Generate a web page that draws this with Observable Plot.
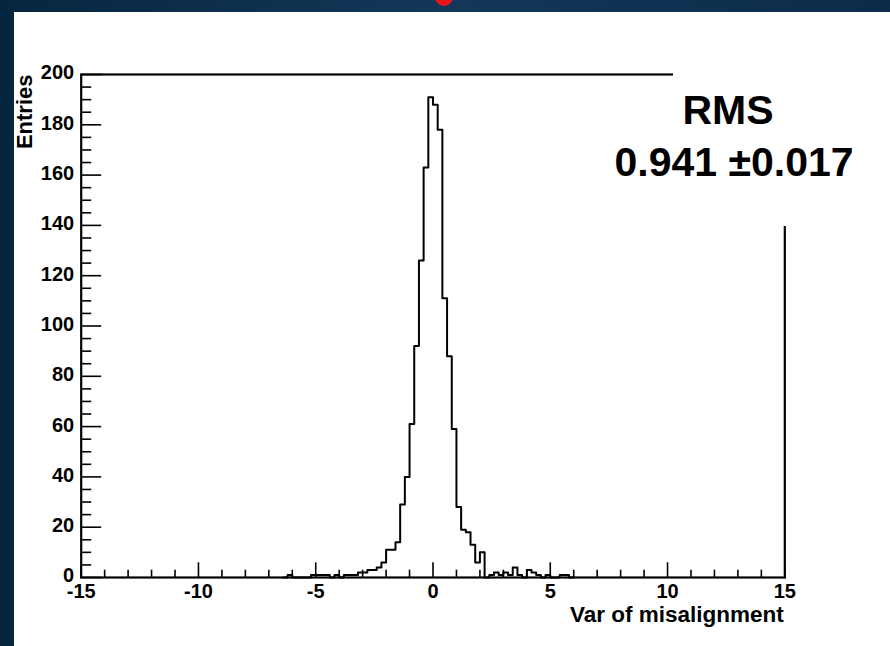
<!DOCTYPE html>
<html>
<head>
<meta charset="utf-8">
<script src="https://cdn.jsdelivr.net/npm/d3@7"></script>
<script src="https://cdn.jsdelivr.net/npm/@observablehq/plot@0.6"></script>
<style>
  html, body { margin: 0; padding: 0; }
  body {
    width: 890px; height: 646px; overflow: hidden; position: relative;
    background: linear-gradient(90deg, #062640 0%, #143859 50%, #0b2b49 100%);
    font-family: "Liberation Sans", Arial, Helvetica, sans-serif;
  }
  #panel { position: absolute; left: 14px; top: 12px; width: 876px; height: 634px; background: #fff; }
  #dot { position: absolute; left: 435px; top: -12px; width: 18px; height: 18px; border-radius: 50%; background: #e8141c; }
  #rmsbox { position: absolute; left: 673px; top: 60px; width: 217px; height: 166px; background: #fff; }
  .rms { position: absolute; font-weight: bold; font-size: 41px; line-height: 41px; color: #000; text-align: center; white-space: nowrap; }
</style>
</head>
<body>
<div id="dot"></div>
<div id="panel"></div>
<div id="rmsbox"></div>
<div class="rms" id="rms1" style="left:628px; top:90px; width:200px;"></div>
<div class="rms" id="rms2" style="left:584px; top:142px; width:300px;"></div>
<script>
// ---- data ----
const binWidth = 0.2;          // histogram bin width
const firstBinLow = -6.4;      // lower edge of the first listed bin
const counts = [
  0, 1, 0, 0, 0, 0, 1, 1, 1, 1,      // -6.4 .. -4.6
  0, 1, 0, 1, 1, 1, 2, 2, 3, 3,      // -4.4 .. -2.6
  4, 6, 11, 11, 14, 29, 40, 61, 92, 126, // -2.4 .. -0.6
  163, 191, 188, 178, 111, 88, 59, 28, 19, 18, // -0.4 .. 1.4
  13, 6, 10, 0, 1, 2, 1, 2, 1, 4,    // 1.6 .. 3.4
  1, 0, 3, 2, 1, 0, 1, 0, 0, 1,      // 3.6 .. 5.4
  1, 0                               // 5.6 .. 5.8
];
const xMajorTicks = [-15, -10, -5, 0, 5, 10, 15];
const xMinorTicks = [-14,-13,-12,-11,-9,-8,-7,-6,-4,-3,-2,-1,1,2,3,4,6,7,8,9,11,12,13,14];
const yMajorTicks = [0, 20, 40, 60, 80, 100, 120, 140, 160, 180, 200];
const yMinorTicks = [5,10,15,25,30,35,45,50,55,65,70,75,85,90,95,105,110,115,125,130,135,145,150,155,165,170,175,185,190,195];
const xTitle = "Var of misalignment";
const yTitle = "Entries";
const statLabel = "RMS";
const statValue = "0.941 ±0.017";

// ---- build ----
const hist = counts.map((c, i) => ({x: firstBinLow + i * binWidth, y: c}));
hist.push({x: firstBinLow + counts.length * binWidth, y: 0});

const W = 876, H = 634;
const mL = 66.7, mR = 105.7, mT = 62, mB = 69;
const fw = W - mL - mR, fh = H - mT - mB;

const chart = Plot.plot({
  width: W, height: H,
  marginLeft: mL, marginRight: mR, marginTop: mT, marginBottom: mB,
  x: {domain: [-15, 15]},
  y: {domain: [0, 200]},
  style: {fontFamily: "'Liberation Sans', Arial, Helvetica, sans-serif", fontSize: "20px", fontWeight: "bold", background: "transparent", color: "#000", overflow: "visible"},
  marks: [
    Plot.ruleX(xMinorTicks, {insetTop: fh - 7.3, stroke: "#000", strokeWidth: 1.6}),
    Plot.ruleX(xMajorTicks, {insetTop: fh - 14.7, stroke: "#000", strokeWidth: 1.6}),
    Plot.ruleY(yMinorTicks, {insetRight: fw - 10.5, stroke: "#000", strokeWidth: 1.6}),
    Plot.ruleY(yMajorTicks, {insetRight: fw - 20.5, stroke: "#000", strokeWidth: 1.6}),
    Plot.line(hist, {x: "x", y: "y", curve: "step-after", stroke: "#000", strokeWidth: 2}),
    Plot.frame({stroke: "#000", strokeWidth: 2.2}),
    Plot.axisX(xMajorTicks, {tickSize: 0, tickPadding: 6.5, tickFormat: d => String(d), label: null, fontSize: 20, fontWeight: "bold"}),
    Plot.axisY(yMajorTicks, {tickSize: 0, tickPadding: 7, tickFormat: d => String(d), label: null, fontSize: 20, fontWeight: "bold", dy: -1.5}),
    Plot.text([xTitle], {frameAnchor: "bottom-right", text: d => d, textAnchor: "end", lineAnchor: "bottom", dx: -1, dy: 44, fontSize: 22.5, fontWeight: "bold"}),
    Plot.text([yTitle], {frameAnchor: "top-left", text: d => d, rotate: -90, textAnchor: "end", lineAnchor: "bottom", dx: -49, dy: 0, fontSize: 22, fontWeight: "bold"})
  ]
});
document.getElementById("panel").appendChild(chart);
document.getElementById("rms1").textContent = statLabel;
document.getElementById("rms2").textContent = statValue;
</script>
</body>
</html>
